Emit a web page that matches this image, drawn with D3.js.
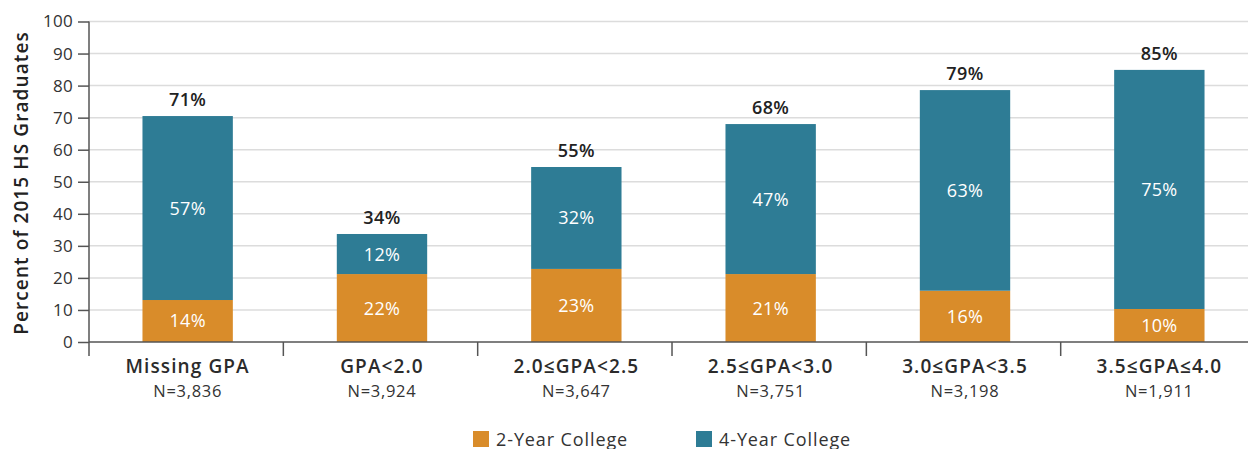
<!DOCTYPE html>
<html><head><meta charset="utf-8">
<script src="https://cdn.jsdelivr.net/npm/d3@7"></script>
<style>
html,body{margin:0;padding:0;background:#fff;}
svg{display:block;font-family:"Open Sans",sans-serif;}
</style></head>
<body>
<svg id="chart" width="1248" height="449"></svg>
<script>
const categories = ["Missing GPA","GPA<2.0","2.0\u2264GPA<2.5","2.5\u2264GPA<3.0","3.0\u2264GPA<3.5","3.5\u2264GPA\u22644.0"];
const nLabels = ["N=3,836","N=3,924","N=3,647","N=3,751","N=3,198","N=1,911"];
const twoYear = [13.1, 21.2, 22.8, 21.2, 16.0, 10.3];
const fourYear = [57.4, 12.5, 31.8, 46.8, 62.6, 74.6];
const twoYearLabels = ["14%","22%","23%","21%","16%","10%"];
const fourYearLabels = ["57%","12%","32%","47%","63%","75%"];
const totalLabels = ["71%","34%","55%","68%","79%","85%"];
const yTicks = [0,10,20,30,40,50,60,70,80,90,100];
const seriesNames = ["2-Year College","4-Year College"];
const colors = ["#d98c2a","#2e7c95"];

const svg = d3.select("#chart");
const x = d3.scaleBand().domain(categories).range([90, 1257]).paddingInner(0.535).paddingOuter(0.27);
const y = d3.scaleLinear().domain([0,100]).range([342, 21.5]);

// gridlines
svg.append("g").selectAll("line").data(yTicks.filter(d=>d>0)).join("line")
  .attr("x1", 89).attr("x2", 1248)
  .attr("y1", d=>y(d)).attr("y2", d=>y(d))
  .attr("stroke", "#dcdcdc").attr("stroke-width", 1.5);

// y axis
const yAxis = svg.append("g").attr("transform","translate(89,0)")
  .call(d3.axisLeft(y).tickValues(yTicks).tickSize(11).tickPadding(5));
yAxis.select(".domain").remove();
yAxis.selectAll(".tick line").attr("stroke","#555").attr("stroke-width",1.5);
yAxis.selectAll(".tick text").attr("fill","#333").style("font-size","17px")
  .style("font-family","'Open Sans',sans-serif").style("letter-spacing","0.3px");
svg.append("line").attr("x1",89).attr("x2",89).attr("y1",y(100)).attr("y2",356)
  .attr("stroke","#555").attr("stroke-width",1.5);

// data
const data = categories.map((c,i)=>({c, a:twoYear[i], b:fourYear[i], i}));

// bars
const g = svg.append("g");
g.selectAll("rect.two").data(data).join("rect").attr("class","two")
  .attr("x", d=>x(d.c)).attr("width", x.bandwidth())
  .attr("y", d=>y(d.a)).attr("height", d=>y(0)-y(d.a)).attr("fill", colors[0]);
g.selectAll("rect.four").data(data).join("rect").attr("class","four")
  .attr("x", d=>x(d.c)).attr("width", x.bandwidth())
  .attr("y", d=>y(d.a+d.b)).attr("height", d=>y(d.a)-y(d.a+d.b)).attr("fill", colors[1]);

// x axis
svg.append("line").attr("x1",89).attr("x2",1248).attr("y1",y(0)).attr("y2",y(0))
  .attr("stroke","#555").attr("stroke-width",1.5);
const step = x.step();
const bounds = d3.range(1, categories.length).map(k => 89 + k*step);
svg.append("g").selectAll("line").data(bounds).join("line")
  .attr("x1",d=>d).attr("x2",d=>d).attr("y1",y(0)).attr("y2",356)
  .attr("stroke","#555").attr("stroke-width",1.5);

// category labels
const cx = d => x(d.c) + x.bandwidth()/2;
svg.append("g").selectAll("text").data(data).join("text")
  .attr("x", cx).attr("y", 372.5).attr("text-anchor","middle")
  .attr("fill","#2b2b2b").style("font-size","19px").style("font-weight","600").style("letter-spacing","1.1px")
  .text(d=>d.c);
svg.append("g").selectAll("text").data(data).join("text")
  .attr("x", cx).attr("y", 397).attr("text-anchor","middle")
  .attr("fill","#333").style("font-size","16.5px").style("letter-spacing","0.7px")
  .text(d=>nLabels[d.i]);

// segment labels
svg.append("g").selectAll("text").data(data).join("text")
  .attr("x", cx).attr("y", d=>(y(0)+y(d.a))/2).attr("dy","0.36em").attr("text-anchor","middle")
  .attr("fill","#fff").style("font-size","18px").style("letter-spacing","0.3px")
  .text(d=>twoYearLabels[d.i]);
svg.append("g").selectAll("text").data(data).join("text")
  .attr("x", cx).attr("y", d=>(y(d.a)+y(d.a+d.b))/2).attr("dy","0.36em").attr("text-anchor","middle")
  .attr("fill","#fff").style("font-size","18px").style("letter-spacing","0.3px")
  .text(d=>fourYearLabels[d.i]);
svg.append("g").selectAll("text").data(data).join("text")
  .attr("x", cx).attr("y", d=>y(d.a+d.b)-10).attr("text-anchor","middle")
  .attr("fill","#222").style("font-size","18px").style("font-weight","600").style("letter-spacing","0.4px")
  .text(d=>totalLabels[d.i]);

// y title
svg.append("text").attr("transform","translate(28,183) rotate(-90)")
  .attr("text-anchor","middle").attr("fill","#222")
  .style("font-size","19px").style("font-weight","600").style("letter-spacing","1.1px")
  .text("Percent of 2015 HS Graduates");

// legend
const legX = [473, 696];
const lg = svg.append("g").selectAll("g").data(seriesNames).join("g")
  .attr("transform",(d,i)=>`translate(${legX[i]},431)`);
lg.append("rect").attr("width",16).attr("height",16).attr("fill",(d,i)=>colors[i]);
lg.append("text").attr("x",23).attr("y",14.5).attr("fill","#333")
  .style("font-size","18px").style("letter-spacing","0.9px").text(d=>d);
</script>
</body></html>
